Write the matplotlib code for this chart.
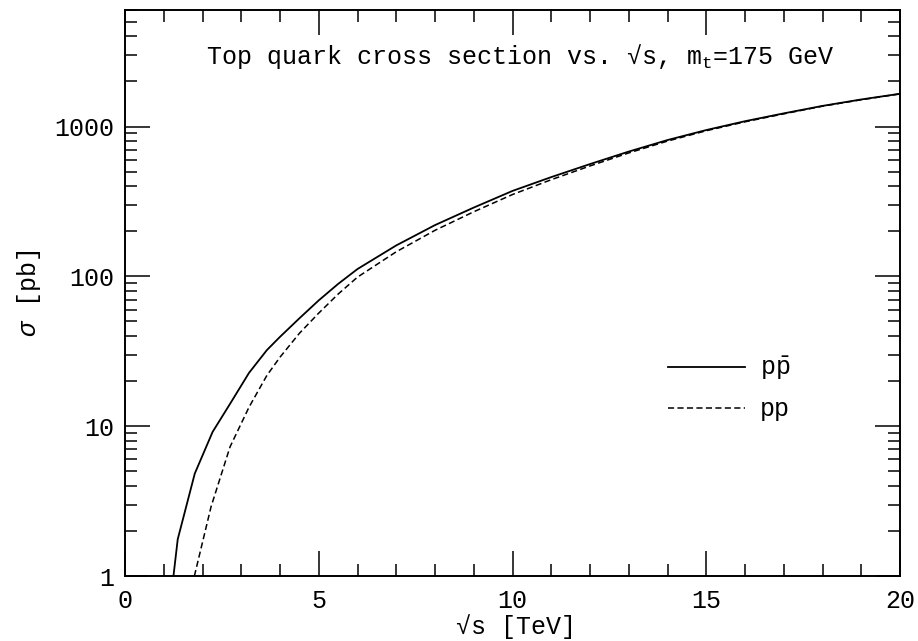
"""Top quark pair cross section vs sqrt(s), ppbar and pp."""

import matplotlib

matplotlib.use("Agg")
import matplotlib.pyplot as plt
from matplotlib.ticker import FixedLocator, LogLocator, MultipleLocator, NullFormatter

plt.rcParams.update(
    {
        "font.family": ["Liberation Mono", "DejaVu Sans Mono", "DejaVu Serif"],
        "mathtext.fontset": "custom",
        "mathtext.rm": "Liberation Mono",
        "mathtext.it": "Liberation Mono:italic",
        "mathtext.fallback": "cm",
        "axes.linewidth": 1.4,
    }
)

# sqrt(s) [TeV] and sigma [pb]
sqrt_s_ppbar = [1.25, 1.36, 1.8, 2.26, 2.71, 3.2, 3.66, 4.0, 4.5, 5.0, 5.5, 6, 7, 8, 9, 10,
                11, 12, 13, 14, 15, 16, 17, 18, 19, 20]
sigma_ppbar = [1.0, 1.76, 4.83, 9.16, 14.1, 22.7, 32.2, 39.5, 52.5, 69.2, 89.1, 112, 161, 220, 288, 372,
               460, 562, 681, 813, 948, 1086, 1225, 1374, 1517, 1656]

sqrt_s_pp = [1.79, 2.22, 2.71, 3.2, 3.66, 4.0, 4.5, 5.0, 5.5, 6, 7, 8, 9, 10,
             11, 12, 13, 14, 15, 16, 17, 18, 19, 20]
sigma_pp = [1.0, 2.9, 7.28, 13.4, 21.8, 28.9, 41.7, 56.9, 76.2, 98.9, 146, 203, 270, 352,
            442, 546, 667, 800, 938, 1076, 1216, 1368, 1510, 1652]

y_major = [1, 10, 100, 1000]
y_labels = ["1", "10", "100", "1000"]

FS = 18

fig = plt.figure(figsize=(9.18, 6.41), dpi=100)
ax = fig.add_axes([0.1362, 0.1014, 0.8442, 0.883])

ax.plot(sqrt_s_ppbar, sigma_ppbar, color="black", lw=1.3, label=r"p$\bar{\mathrm{p}}$")
ax.plot(sqrt_s_pp, sigma_pp, color="black", lw=1.1, ls=(0, (4, 2.2)), label="pp")

ax.set_yscale("log")
ax.set_xlim(0, 20)
ax.set_ylim(1, 6000)

ax.xaxis.set_major_locator(MultipleLocator(5))
ax.xaxis.set_minor_locator(MultipleLocator(1))
ax.yaxis.set_major_locator(FixedLocator(y_major))
ax.set_yticklabels(y_labels)
ax.yaxis.set_minor_locator(LogLocator(base=10, subs=range(2, 10)))
ax.yaxis.set_minor_formatter(NullFormatter())

ax.tick_params(which="both", direction="in", top=True, right=True, width=1.1, labelsize=FS)
ax.tick_params(which="major", length=18)
ax.tick_params(which="minor", length=8.6)
ax.tick_params(axis="x", which="major", pad=9)
ax.tick_params(axis="y", which="major", pad=8)

ax.set_xlabel("√s [TeV]", fontsize=FS)
ax.xaxis.set_label_coords(0.505, -0.068)
ax.set_ylabel(r"$\sigma$ [pb]", fontsize=FS)
ax.yaxis.set_label_coords(-0.106, 0.5)

ax.text(
    0.51,
    0.917,
    r"Top quark cross section vs. √s, m$_\mathrm{t}$=175 GeV",
    transform=ax.transAxes,
    ha="center",
    va="center",
    fontsize=FS,
)

ax.legend(
    loc="center left",
    bbox_to_anchor=(0.672, 0.332),
    frameon=False,
    fontsize=FS,
    handlelength=3.05,
    handletextpad=0.6,
    labelspacing=0.6,
)

fig.savefig("out.png", dpi=100)
